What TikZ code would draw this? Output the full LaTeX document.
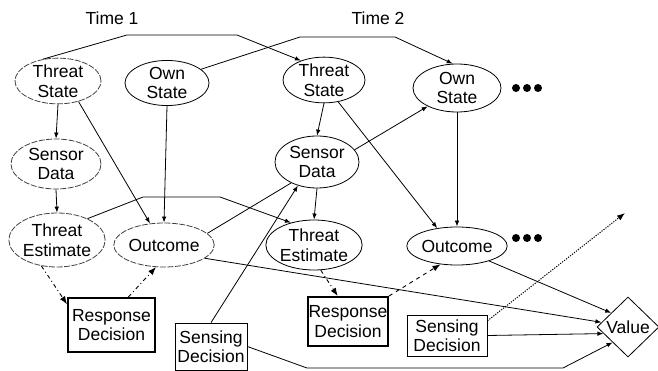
\documentclass[tikz,border=0pt]{standalone}
\usepackage{fontspec}
\setmainfont{Liberation Sans}
\usetikzlibrary{shapes.geometric,arrows.meta}
\begin{document}
\begin{tikzpicture}[x=1pt,y=-1pt,
  every node/.style={font=\fontsize{17.5}{19.5}\selectfont, inner sep=0pt, align=center},
  oval/.style={draw, ellipse, line width=0.8pt},
  faded/.style={oval, dash pattern=on 6pt off 1.5pt, draw=black!75},
  decbox/.style={draw, rectangle, line width=0.8pt},
  respbox/.style={draw, rectangle, line width=2pt},
  valnode/.style={draw, diamond, aspect=1, line width=0.8pt},
  link/.style={line width=0.8pt, -{Latex[length=6pt,width=4.5pt]}},
  plain/.style={line width=0.8pt},
  policy/.style={line width=0.9pt, dash pattern=on 4pt off 3pt on 1pt off 3pt, -{Latex[length=8pt,width=6pt]}},
  info/.style={line width=1pt, dash pattern=on 1.2pt off 1.3pt, -{Latex[length=8pt,width=6pt]}}]
\useasboundingbox (0,0) rectangle (658,371);

% time slice labels
\node (t1) at (112,18) {Time 1};
\node (t2) at (378,18) {Time 2};

% time 1 chance nodes
\node[faded, minimum width=86pt, minimum height=44pt] (ts1) at (58,81) {Threat\\State};
\node[oval,  minimum width=84pt, minimum height=42pt] (os1) at (167,83) {Own\\State};
\node[faded, minimum width=90pt, minimum height=50pt] (sd1) at (56,164) {Sensor\\Data};
\node[faded, minimum width=94pt, minimum height=54pt] (te1) at (57,240) {Threat\\Estimate};
\node[faded, minimum width=80pt, minimum height=44pt] (oc1) at (164,245) {Outcome};

% time 2 chance nodes
\node[oval, minimum width=82pt, minimum height=44pt] (ts2) at (324,80) {Threat\\State};
\node[oval, minimum width=88pt, minimum height=48pt] (os2) at (457,88) {Own\\State};
\node[oval, minimum width=84pt, minimum height=52pt] (sd2) at (317,162) {Sensor\\Data};
\node[oval, minimum width=86pt, minimum height=50pt] (te2) at (314,245) {Threat\\Estimate};
\node[oval, minimum width=80pt, minimum height=38pt] (oc2) at (457,246) {Outcome};

% decision nodes
\node[respbox, minimum width=87pt, minimum height=54pt] (rd1) at (111.5,325) {Response\\Decision};
\node[decbox,  minimum width=72pt, minimum height=47pt] (sdec1) at (211,346.5) {Sensing\\Decision};
\node[respbox, minimum width=80pt, minimum height=49pt] (rd2) at (348,321.5) {Response\\Decision};
\node[decbox,  minimum width=80pt, minimum height=41pt] (sdec2) at (447,335.5) {Sensing\\Decision};

% value node
\node[valnode, minimum width=62pt, minimum height=60pt] (val) at (628,327) {Value};

% continuation marks
\node (more1) at (527,88) {};
\node (more2) at (527,238) {};
\foreach \m in {more1,more2}
  \foreach \dx in {-11,0,11}
    \fill ([xshift=\dx pt]\m.center) circle (4pt);

% transitions between time slices
\draw[link] (ts1.125) -- (127,35) -- (237,35) -- (ts2.140);
\draw[link] (os1.22) -- (300,37) -- (395,37) -- (os2.100);
\draw[link] (te1.35) -- (143,197) -- (220,197) -- (te2.136);

% time 1 dependencies
\draw[link] (ts1.south) -- (sd1.north);
\draw[link] (sd1.south) -- (te1.north);
\draw[link] (ts1.-45) -- (oc1.123);
\draw[link] (os1.south) -- (oc1.north);
\draw[policy] (te1.239) -- (rd1.155);
\draw[policy] (rd1.59) -- (oc1.250);

% time 2 dependencies
\draw[link] (ts2.south) -- (sd2.north);
\draw[link] (sd2.south) -- (te2.north);
\draw[link] (sd2.18) -- (os2.212);
\draw[link] (ts2.-57) -- (oc2.138);
\draw[link] (os2.south) -- (oc2.north);
\draw[policy] (te2.-75) -- (rd2.112);
\draw[policy, dash pattern=on 4pt off 4pt] (rd2.north east) -- (oc2.228);

% sensing and outcome links
\draw[plain] (oc1.15) -- (sd2.219);
\draw[link] (sdec1.north) -- (sd2.231);
\draw[link] (oc1.-18) -- (val.170);
\draw[link] (sdec1.east) -- (307,368) -- (563,368) -- (val.225);
\draw[link] (sdec2.east) -- (val.195);
\draw[link] (oc2.-25) -- (val.140);
\coordinate (future) at (625,213);
\draw[info] (sdec2.20) -- (future);
\end{tikzpicture}
\end{document}
